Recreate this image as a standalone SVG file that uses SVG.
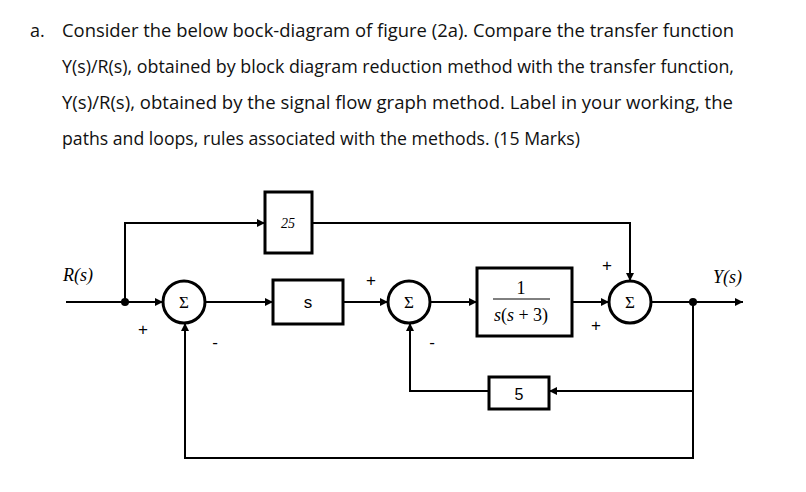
<svg xmlns="http://www.w3.org/2000/svg" width="806" height="492" viewBox="0 0 806 492">
<style>
.q{font-family:"Open Sans","Liberation Sans",sans-serif;font-size:18px;fill:#111}
.blk{fill:#fff;stroke:#000;stroke-width:3}
.sum{fill:#fff;stroke:#000;stroke-width:3}
.ln{fill:none;stroke:#000;stroke-width:2}
.ser{font-family:"Liberation Serif","Times New Roman",serif;fill:#000}
.it{font-style:italic}
.sans{font-family:"Liberation Sans",Arial,sans-serif;fill:#000}
.sg{font-family:"Liberation Sans",Arial,sans-serif;font-size:17px;fill:#000;text-anchor:middle}
</style>
<defs>
<marker id="ar" viewBox="0 0 10 10" refX="10" refY="5" markerWidth="5" markerHeight="4" orient="auto" markerUnits="strokeWidth">
<path d="M0,0 L10,5 L0,10 z" fill="#000"/>
</marker>
</defs>
<rect width="806" height="492" fill="#fff"/>
<g id="question">
<text class="q" x="30" y="37">a.</text>
<text class="q" x="62" y="37" textLength="672" lengthAdjust="spacingAndGlyphs">Consider the below bock-diagram of figure (2a).  Compare the transfer function</text>
<text class="q" x="62" y="73" textLength="672" lengthAdjust="spacingAndGlyphs">Y(s)/R(s), obtained by block diagram reduction method with the transfer function,</text>
<text class="q" x="62" y="109" textLength="671" lengthAdjust="spacingAndGlyphs">Y(s)/R(s), obtained by the signal flow graph method. Label in your working, the</text>
<text class="q" x="62" y="145" textLength="518" lengthAdjust="spacingAndGlyphs">paths and loops, rules associated with the methods.  (15 Marks)</text>
</g>
<g id="connectors">
<path class="ln" d="M66,302 H163" marker-end="url(#ar)"/>
<path class="ln" d="M125,302 V223 H265" marker-end="url(#ar)"/>
<path class="ln" d="M205,302 H273" marker-end="url(#ar)"/>
<path class="ln" d="M343,302 H388" marker-end="url(#ar)"/>
<path class="ln" d="M430,302 H477" marker-end="url(#ar)"/>
<path class="ln" d="M572,302 H609" marker-end="url(#ar)"/>
<path class="ln" d="M312,223 H630 V281" marker-end="url(#ar)"/>
<path class="ln" d="M651,302 H743" marker-end="url(#ar)"/>
<path class="ln" d="M693,302 V458 H185 V323" marker-end="url(#ar)"/>
<path class="ln" d="M693,391 H549" marker-end="url(#ar)"/>
<path class="ln" d="M489,391 H410 V323" marker-end="url(#ar)"/>
<circle cx="125" cy="302" r="4" fill="#000"/>
<circle cx="693" cy="302" r="4" fill="#000"/>
</g>
<g id="labels">
<text class="ser it" x="63" y="281" font-size="18">R(s)</text>
<text class="ser it" x="713" y="283" font-size="18">Y(s)</text>
<text class="sg" x="143" y="335">+</text>
<text class="sg" x="215" y="348">-</text>
<text class="sg" x="371" y="286">+</text>
<text class="sg" x="432" y="348">-</text>
<text class="sg" x="607" y="271">+</text>
<text class="sg" x="596" y="331">+</text>
</g>
<g id="block25">
<rect class="blk" x="265" y="192" width="47" height="61"/>
<text class="ser it" x="288" y="228" font-size="14" text-anchor="middle">25</text>
</g>
<g id="sum1">
<circle class="sum" cx="184" cy="302" r="21"/>
<text class="ser" x="184" y="308" font-size="17" text-anchor="middle">Σ</text>
</g>
<g id="blockS">
<rect class="blk" x="273" y="280" width="70" height="44"/>
<text class="sans" x="308" y="308" font-size="17" text-anchor="middle">s</text>
</g>
<g id="sum2">
<circle class="sum" cx="409" cy="302" r="21"/>
<text class="ser" x="409" y="308" font-size="17" text-anchor="middle">Σ</text>
</g>
<g id="blockG">
<rect class="blk" x="477" y="268" width="95" height="68"/>
<text class="ser" x="521" y="294" font-size="18" text-anchor="middle">1</text>
<line x1="493" y1="299" x2="550" y2="299" stroke="#000" stroke-width="1"/>
<text class="ser" x="521" y="321" font-size="18" text-anchor="middle"><tspan font-style="italic">s</tspan>(<tspan font-style="italic">s</tspan> + 3)</text>
</g>
<g id="sum3">
<circle class="sum" cx="630" cy="302" r="21"/>
<text class="ser" x="630" y="308" font-size="17" text-anchor="middle">Σ</text>
</g>
<g id="block5">
<rect class="blk" x="489" y="377" width="60" height="32"/>
<text class="sans" x="519" y="400" font-size="16" text-anchor="middle">5</text>
</g>
</svg>
